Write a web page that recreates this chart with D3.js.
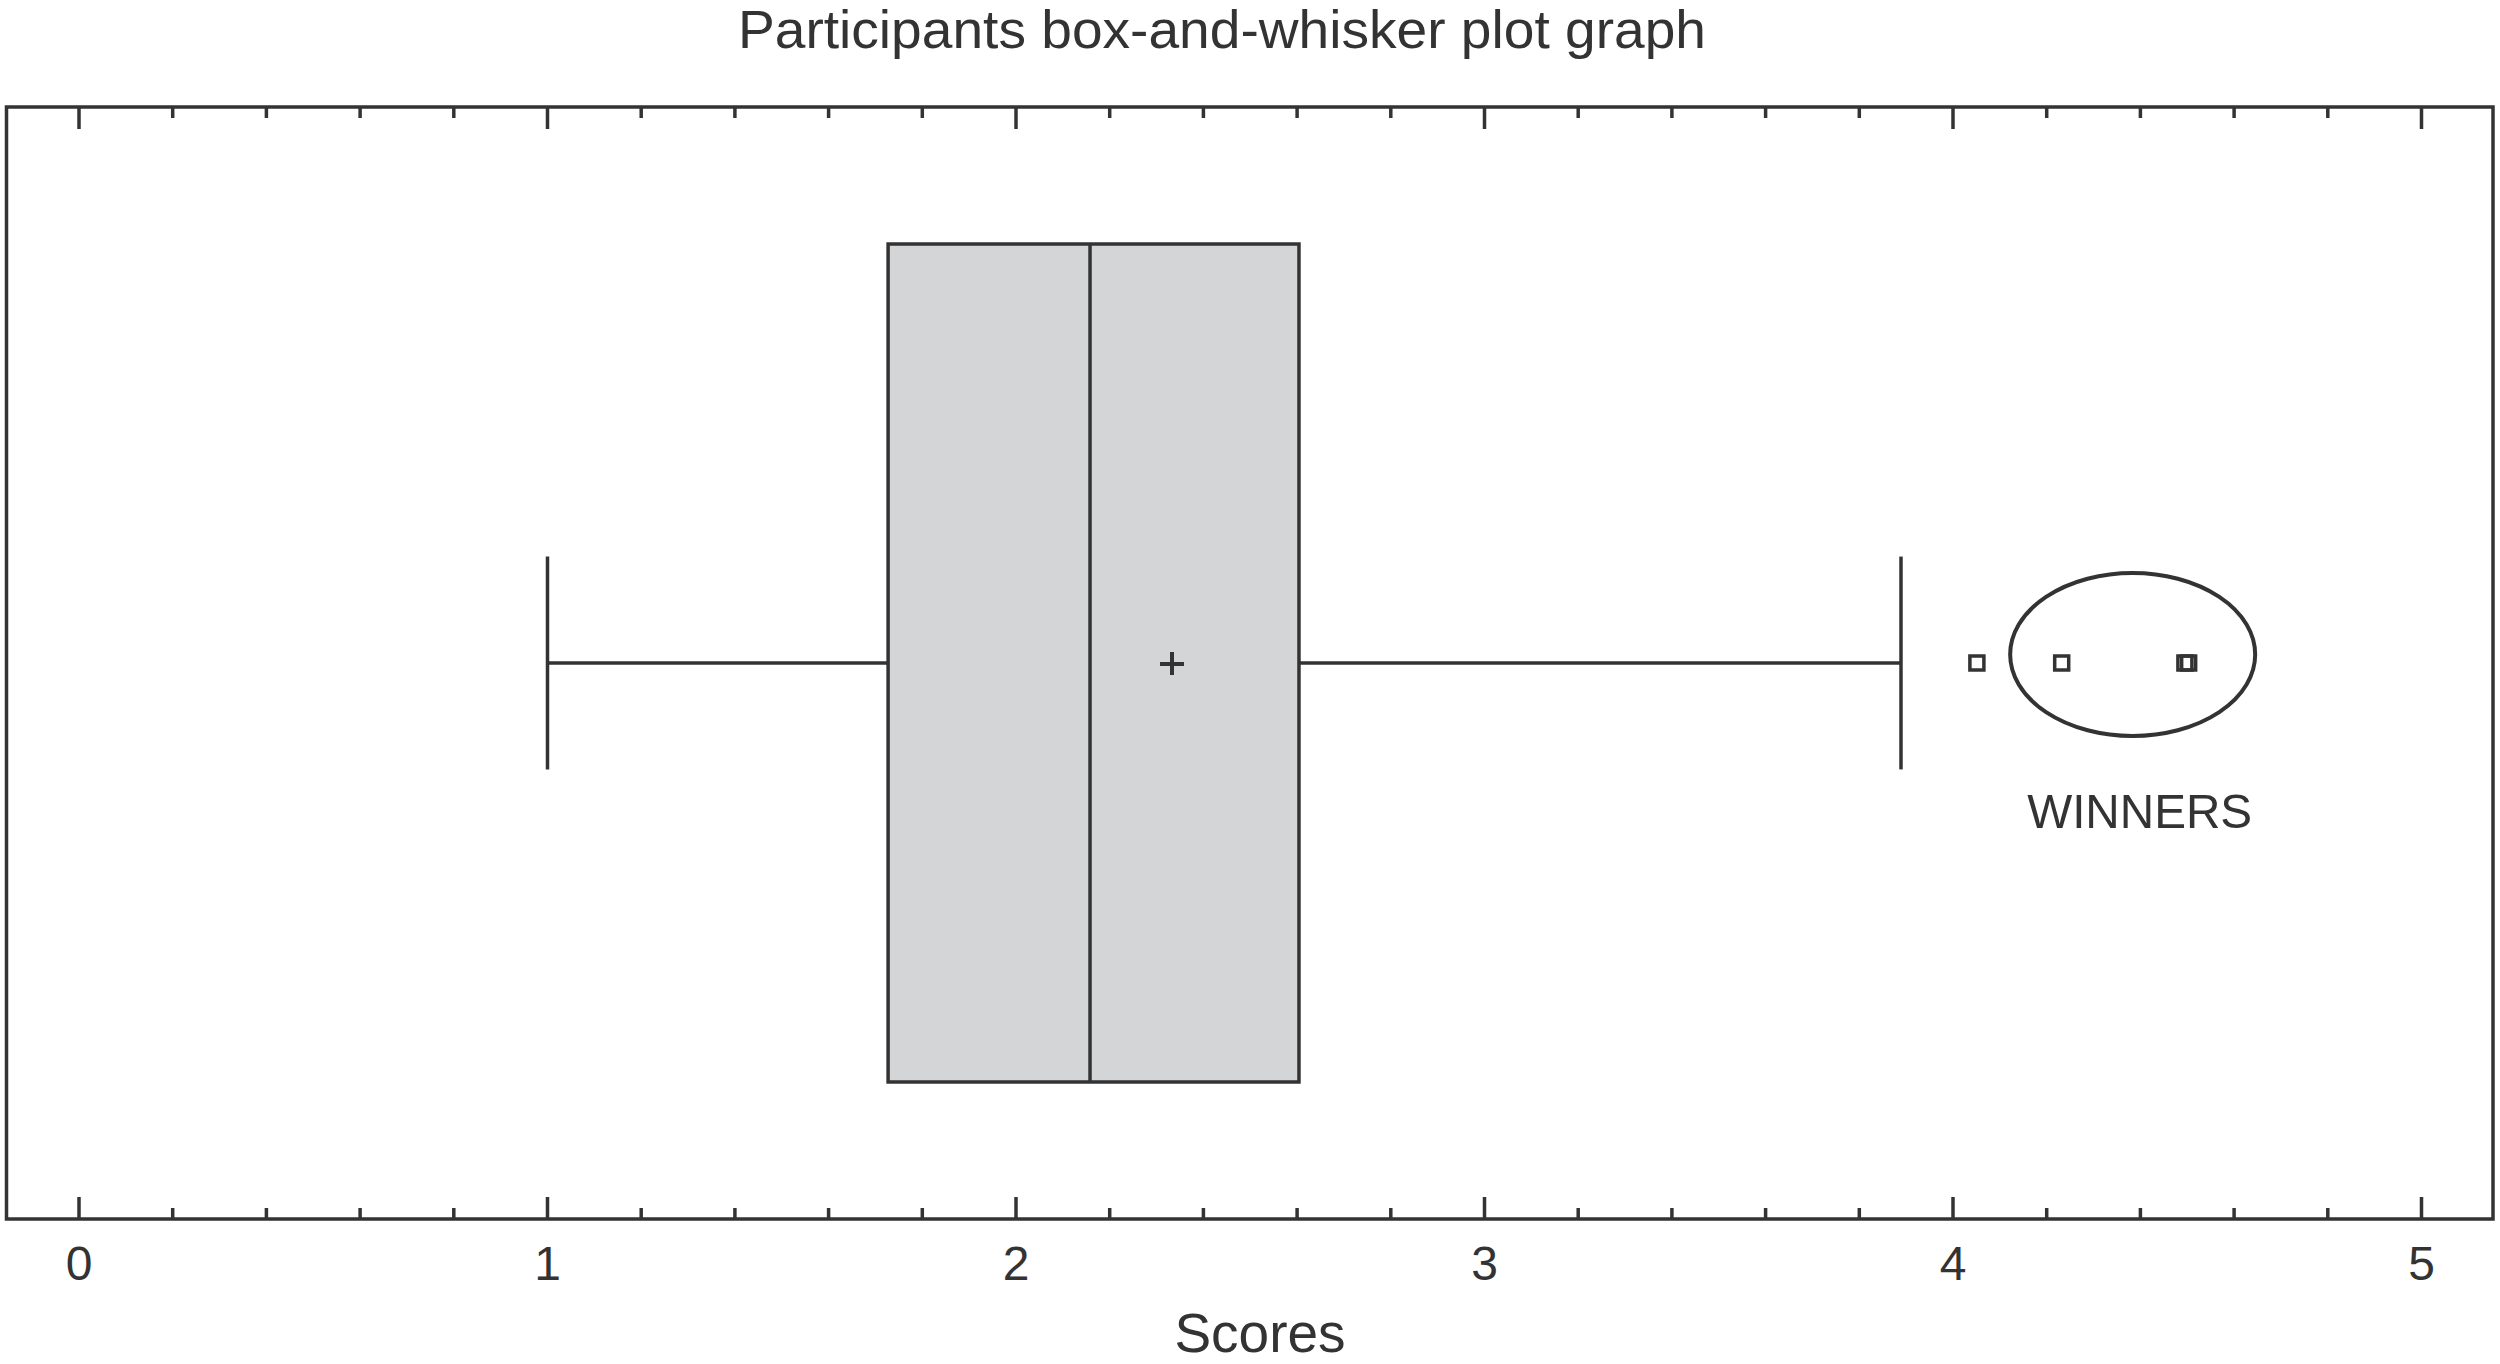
<!DOCTYPE html>
<html>
<head>
<meta charset="utf-8">
<script src="https://cdn.jsdelivr.net/npm/d3@7"></script>
<style>
  html, body { margin: 0; padding: 0; background: #fff; }
  svg { display: block; }
</style>
</head>
<body>
<svg id="chart" width="2500" height="1364"></svg>
<script>
// ---- data ----
const categories = ["Participants"];
const whiskerLow = [1.0];
const q1 = [1.727];
const median = [2.158];
const q3 = [2.604];
const whiskerHigh = [3.889];
const means = [2.333];
const outliers = [4.051, 4.232, 4.495, 4.503];
const winnersRange = [4.122, 4.645];
const majorTicks = [0, 1, 2, 3, 4, 5];
const tickLabels = ["0", "1", "2", "3", "4", "5"];
const minorTicks = d3.range(0, 26).map(i => i / 5);
const title = "Participants box-and-whisker plot graph";
const xTitle = "Scores";
const annotation = "WINNERS";

// ---- layout ----
const ink = "#333333";
const frame = { x0: 6.5, x1: 2493, y0: 107, y1: 1219 };
const x = d3.scaleLinear().domain([0, 5]).range([79, 2421.5]);
const y = d3.scaleBand().domain(categories).range([frame.y0, frame.y1]).paddingInner(0).paddingOuter(0.1635);

const svg = d3.select("#chart");

// title
svg.append("text")
  .attr("x", 1222).attr("y", 48)
  .attr("text-anchor", "middle")
  .attr("font-family", "Liberation Sans, Arial, sans-serif")
  .attr("font-size", 53)
  .attr("fill", ink)
  .attr("textLength", 968).attr("lengthAdjust", "spacingAndGlyphs")
  .text(title);

// frame
svg.append("rect")
  .attr("x", frame.x0).attr("y", frame.y0)
  .attr("width", frame.x1 - frame.x0).attr("height", frame.y1 - frame.y0)
  .attr("fill", "none").attr("stroke", ink).attr("stroke-width", 3.5);

// ticks (top and bottom, pointing inward)
const tickG = svg.append("g").attr("stroke", ink).attr("stroke-width", 3.5);
const isMajor = v => Math.abs(v - Math.round(v)) < 1e-9;
tickG.selectAll("line.top").data(minorTicks).join("line")
  .attr("class", "top")
  .attr("x1", d => x(d)).attr("x2", d => x(d))
  .attr("y1", frame.y0).attr("y2", d => frame.y0 + (isMajor(d) ? 22 : 11));
tickG.selectAll("line.bot").data(minorTicks).join("line")
  .attr("class", "bot")
  .attr("x1", d => x(d)).attr("x2", d => x(d))
  .attr("y1", frame.y1).attr("y2", d => frame.y1 - (isMajor(d) ? 22 : 11));

// tick labels
svg.append("g").selectAll("text").data(majorTicks).join("text")
  .attr("x", d => x(d)).attr("y", 1280)
  .attr("text-anchor", "middle")
  .attr("font-family", "Liberation Sans, Arial, sans-serif")
  .attr("font-size", 48)
  .attr("fill", ink)
  .text((d, i) => tickLabels[i]);

// axis title
svg.append("text")
  .attr("x", 1260).attr("y", 1352)
  .attr("text-anchor", "middle")
  .attr("font-family", "Liberation Sans, Arial, sans-serif")
  .attr("font-size", 55)
  .attr("fill", ink)
  .text(xTitle);

// box plot
categories.forEach((c, i) => {
  const top = y(c), bot = y(c) + y.bandwidth();
  const cy = (top + bot) / 2;
  const capH = y.bandwidth() * 0.254 / 2;
  const g = svg.append("g").attr("stroke", ink).attr("stroke-width", 3.5);
  // whiskers
  g.append("line").attr("x1", x(whiskerLow[i])).attr("x2", x(q1[i])).attr("y1", cy).attr("y2", cy);
  g.append("line").attr("x1", x(q3[i])).attr("x2", x(whiskerHigh[i])).attr("y1", cy).attr("y2", cy);
  g.append("line").attr("x1", x(whiskerLow[i])).attr("x2", x(whiskerLow[i])).attr("y1", cy - capH).attr("y2", cy + capH);
  g.append("line").attr("x1", x(whiskerHigh[i])).attr("x2", x(whiskerHigh[i])).attr("y1", cy - capH).attr("y2", cy + capH);
  // box
  g.append("rect")
    .attr("x", x(q1[i])).attr("y", top)
    .attr("width", x(q3[i]) - x(q1[i])).attr("height", bot - top)
    .attr("fill", "#d4d5d7");
  // median
  g.append("line").attr("x1", x(median[i])).attr("x2", x(median[i])).attr("y1", top).attr("y2", bot);
  // mean plus
  const mx = x(means[i]);
  g.append("line").attr("x1", mx - 12).attr("x2", mx + 12).attr("y1", cy + 1).attr("y2", cy + 1).attr("stroke-width", 4);
  g.append("line").attr("x1", mx).attr("x2", mx).attr("y1", cy - 11).attr("y2", cy + 12).attr("stroke-width", 4);
  // outliers
  svg.append("g").selectAll("rect").data(outliers).join("rect")
    .attr("x", d => x(d) - 7).attr("y", cy - 7)
    .attr("width", 14).attr("height", 14)
    .attr("fill", "none").attr("stroke", ink).attr("stroke-width", 3.5);
  // winners ellipse
  const ex0 = x(winnersRange[0]), ex1 = x(winnersRange[1]);
  svg.append("ellipse")
    .attr("cx", (ex0 + ex1) / 2).attr("cy", cy - 8.5)
    .attr("rx", (ex1 - ex0) / 2).attr("ry", 81.5)
    .attr("fill", "none").attr("stroke", ink).attr("stroke-width", 4);
  svg.append("text")
    .attr("x", (ex0 + ex1) / 2 + 7).attr("y", 828)
    .attr("text-anchor", "middle")
    .attr("font-family", "Liberation Sans, Arial, sans-serif")
    .attr("font-size", 49)
    .attr("fill", ink)
    .attr("textLength", 225).attr("lengthAdjust", "spacingAndGlyphs")
    .text(annotation);
});
</script>
</body>
</html>
